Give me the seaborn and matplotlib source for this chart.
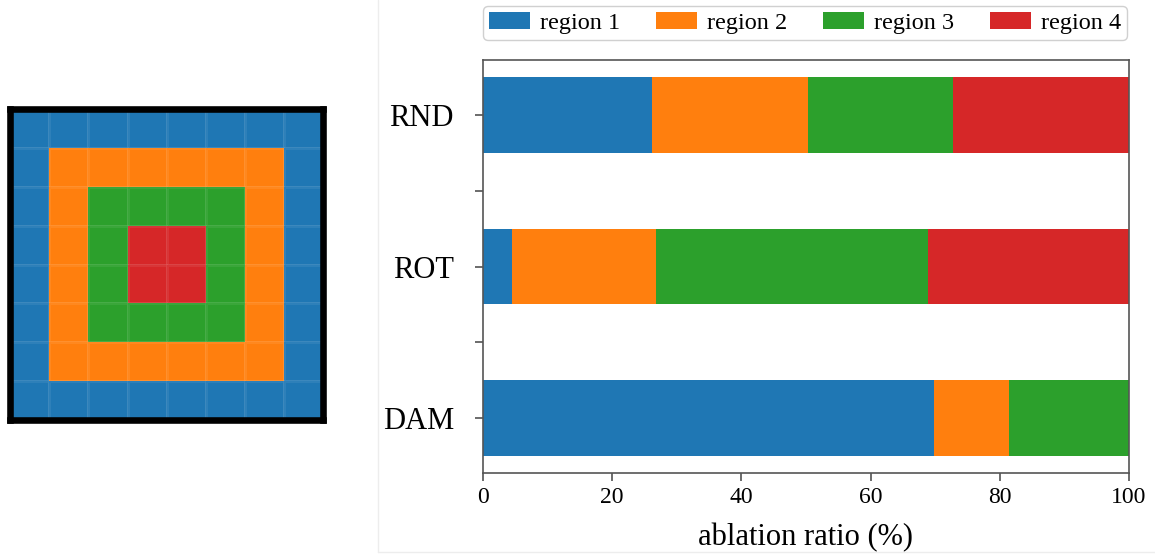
import numpy as np
import pandas as pd
import matplotlib
matplotlib.use("Agg")
import matplotlib.pyplot as plt
from matplotlib.colors import ListedColormap
from matplotlib.lines import Line2D
import seaborn as sns

# Region layout of the 8x8 patch (0 = outermost ring, 3 = centre)
region_grid = [
    [0, 0, 0, 0, 0, 0, 0, 0],
    [0, 1, 1, 1, 1, 1, 1, 0],
    [0, 1, 2, 2, 2, 2, 1, 0],
    [0, 1, 2, 3, 3, 2, 1, 0],
    [0, 1, 2, 3, 3, 2, 1, 0],
    [0, 1, 2, 2, 2, 2, 1, 0],
    [0, 1, 1, 1, 1, 1, 1, 0],
    [0, 0, 0, 0, 0, 0, 0, 0],
]

methods = ["RND", "ROT", "DAM"]
regions = ["region 1", "region 2", "region 3", "region 4"]
region1 = [26.2, 4.5, 69.8]
region2 = [24.1, 22.3, 11.7]
region3 = [22.5, 42.1, 18.5]
region4 = [27.2, 31.1, 0.0]
x_ticks = [0, 20, 40, 60, 80, 100]

palette = ["#1f77b4", "#ff7f0e", "#2ca02c", "#d62728"]

sns.set_theme(style="ticks")
plt.rcParams["font.family"] = ["Liberation Serif", "DejaVu Serif"]
plt.rcParams["text.color"] = "black"
plt.rcParams["axes.labelcolor"] = "black"
plt.rcParams["xtick.labelcolor"] = "black"
plt.rcParams["ytick.labelcolor"] = "black"

W, H = 1155, 560
fig = plt.figure(figsize=(W / 100, H / 100), dpi=100)

# ---- left: region map ----
ax_map = fig.add_axes([10 / W, 140 / H, 313.5 / W, 310.7 / H])
sns.heatmap(
    np.array(region_grid), ax=ax_map, cmap=ListedColormap(palette),
    vmin=-0.5, vmax=3.5, cbar=False, linewidths=1.0,
    linecolor=(1, 1, 1, 0.07), xticklabels=False, yticklabels=False,
)
for s in ax_map.spines.values():
    s.set_visible(True)
    s.set_color("black")
    s.set_linewidth(4.75)
ax_map.tick_params(left=False, bottom=False)

# ---- right: stacked ablation ratios ----
ax = fig.add_axes([483 / W, 87 / H, 646 / W, 413 / H])
stack = np.cumsum(np.array([region1, region2, region3, region4]), axis=0)
for k in reversed(range(len(regions))):
    sns.barplot(
        x=stack[k], y=methods, order=methods, orient="h", color=palette[k],
        saturation=1, width=0.5, linewidth=0, label=regions[k], ax=ax,
    )

ax.set_xlim(0, 100)
ax.set_ylim(2.36, -0.36)
ax.set_xticks(x_ticks)
ax.set_xticklabels([str(v) for v in x_ticks], fontsize=17)
ax.set_yticks([0, 0.5, 1, 1.5, 2])
ax.set_yticklabels([methods[0], "", methods[1], "", methods[2]], fontsize=22)
ax.set_ylabel("")
ax.set_xlabel("ablation ratio (%)", fontsize=22, labelpad=11)
ax.tick_params(axis="x", length=6, width=1.1, color="#444444", pad=4)
ax.tick_params(axis="y", length=6, width=1.1, color="#444444", pad=15)
for s in ax.spines.values():
    s.set_visible(True)
    s.set_color("#555555")
    s.set_linewidth(1.2)

handles, labels = ax.get_legend_handles_labels()
leg = ax.legend(
    handles[::-1], labels[::-1], ncol=4, loc="lower left",
    bbox_to_anchor=(0.0, 1.048, 0.997, 0.07), mode="expand",
    borderaxespad=0, fontsize=17.5, handlelength=1.7, handletextpad=0.4,
    borderpad=0.25, frameon=True, fancybox=True, framealpha=1,
    edgecolor="#d0d0d0",
)

# faint panel separators
fig.add_artist(Line2D([378 / W, 378 / W], [1.0, 1 - 552 / H],
                      transform=fig.transFigure, color="#ededed", lw=1))
fig.add_artist(Line2D([378 / W, 1.0], [1 - 552 / H, 1 - 552 / H],
                      transform=fig.transFigure, color="#ededed", lw=1))

fig.savefig("out.png", dpi=100)
